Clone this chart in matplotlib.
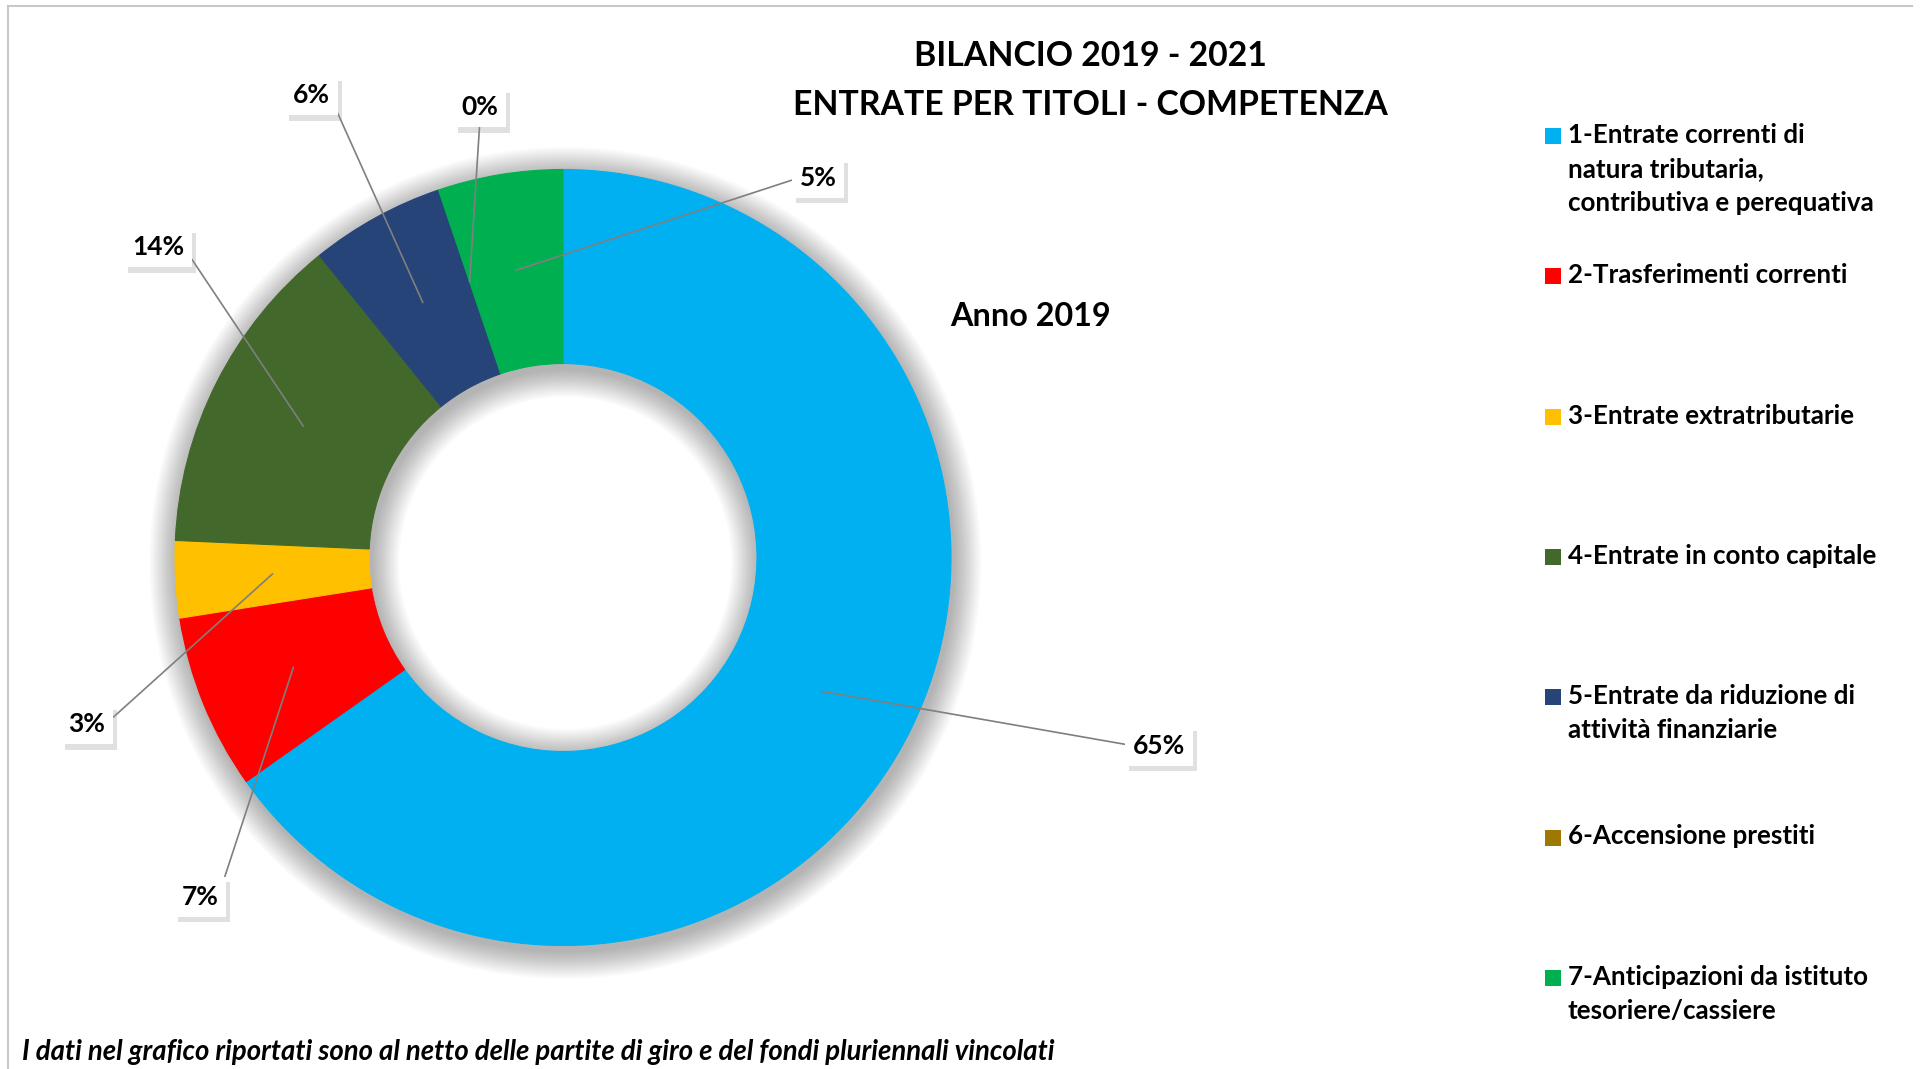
import numpy as np
import matplotlib
matplotlib.use('Agg')
import matplotlib.pyplot as plt
from matplotlib.patches import Wedge, Rectangle
from matplotlib import patheffects as pe

# dati (percentuali, anno 2019)
categorie = ['1-Entrate correnti di\nnatura tributaria,\ncontributiva e perequativa',
             '2-Trasferimenti correnti',
             '3-Entrate extratributarie',
             '4-Entrate in conto capitale',
             '5-Entrate da riduzione di\nattività finanziarie',
             '6-Accensione prestiti',
             '7-Anticipazioni da istituto\ntesoriere/cassiere']
percentuali = [65.2, 7.3, 3.2, 13.5, 5.6, 0.0, 5.2]
colori = ['#00B0F0', '#FF0000', '#FFC000', '#43682B', '#264478', '#9E7800', '#00B050']
etichette = [f'{round(v)}%' for v in percentuali]

# posizione delle etichette (raggio = 1)
pos_etichette = [(1.536, -0.485), (-0.936, -0.874), (-1.227, -0.430), (-1.044, 0.799),
                 (-0.649, 1.191), (-0.214, 1.160), (0.657, 0.979)]

plt.rcParams['font.family'] = ['Lato', 'DejaVu Sans']

W, H = 1923, 1069
fig = plt.figure(figsize=(W / 100, H / 100), dpi=100)
fig.patch.set_facecolor('white')

# livello in pixel per testi, legenda e bordo
ov = fig.add_axes([0, 0, 1, 1])
ov.set_xlim(0, W)
ov.set_ylim(H, 0)
ov.axis('off')
ov.plot([8, 8], [6, H], color='#c8c8c8', lw=1.5)
ov.plot([8, 1912], [6, 6], color='#c8c8c8', lw=1.5)

ov.text(1090, 56, 'BILANCIO 2019 - 2021', ha='center', va='center', fontsize=24.3, fontweight='bold')
ov.text(1090, 105, 'ENTRATE PER TITOLI - COMPETENZA', ha='center', va='center', fontsize=24.3, fontweight='bold')
ov.text(1030, 317, 'Anno 2019', ha='center', va='center', fontsize=23.3, fontweight='bold')
ov.text(22, 1052, 'I dati nel grafico riportati sono al netto delle partite di giro e del fondi pluriennali vincolati',
        ha='left', va='center', fontsize=19.8, fontweight='bold', fontstyle='italic')

# legenda
for i, (cat, col) in enumerate(zip(categorie, colori)):
    yb = 146 + i * 140.3
    ov.add_patch(Rectangle((1545, yb - 18), 16, 16, fc=col, ec='none'))
    ov.text(1568, yb - 23, cat, ha='left', va='top', fontsize=18.7, fontweight='bold', linespacing=1.5)

# ciambella
cx, cy, r = 563, 557.5, 388
ax = fig.add_axes([(cx - r) / W, (H - cy - r) / H, 2 * r / W, 2 * r / H])

# ombra sfumata
for k in range(16):
    s = 0.0045 * (k + 1)
    ax.add_patch(Wedge((0.006, -0.014), 1 + s, 0, 360, width=0.5 + 2 * s,
                       fc='black', alpha=0.018, lw=0, clip_on=False))

wedges, _ = ax.pie(percentuali, colors=colori, startangle=90, counterclock=False,
                   radius=1, wedgeprops=dict(width=0.5, linewidth=0))
ax.set_xlim(-1, 1)
ax.set_ylim(-1, 1)
ax.axis('off')
for w, v in zip(wedges, percentuali):
    w.set_zorder(2)
    if v > 0:
        w.set_edgecolor(w.get_facecolor())
        w.set_linewidth(0.8)

for w, lab, (tx, ty) in zip(wedges, etichette, pos_etichette):
    ang = np.deg2rad((w.theta1 + w.theta2) / 2)
    px, py = 0.75 * np.cos(ang), 0.75 * np.sin(ang)
    if abs(tx - px) < 0.15:
        rel = (0.5, 0)
    elif tx > px:
        rel = (0, 0.5)
    else:
        rel = (1, 0.5)
    t = ax.annotate(lab, xy=(px, py), xytext=(tx, ty), ha='center', va='center',
                    fontsize=19, fontweight='bold', zorder=5, annotation_clip=False,
                    bbox=dict(boxstyle='square,pad=0.3', fc='white', ec='none'),
                    arrowprops=dict(arrowstyle='-', color='#7f7f7f', lw=1.2,
                                    shrinkA=0, shrinkB=0, relpos=rel))
    t.get_bbox_patch().set_path_effects([
        pe.withSimplePatchShadow(offset=(3, -4), shadow_rgbFace='0.6', alpha=0.3),
        pe.Normal()])

fig.savefig('out.png', dpi=100, facecolor='white')
